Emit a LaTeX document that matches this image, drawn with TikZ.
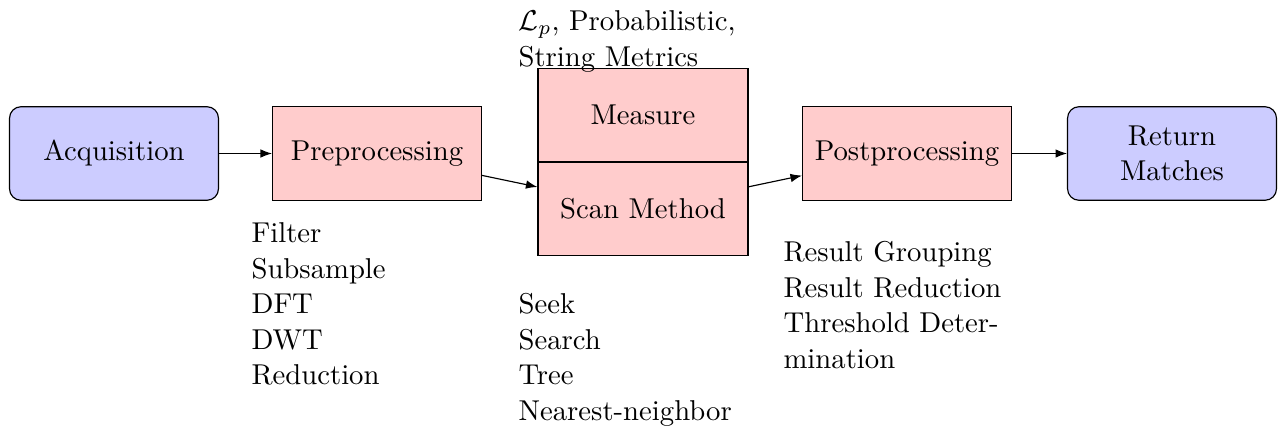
\documentclass[tikz,border=0pt]{standalone}
\usetikzlibrary{arrows.meta}
\begin{document}
\begin{tikzpicture}[x=0.34843pt,y=-0.34843pt,
  procbox/.style={draw=black, fill=red!20, minimum width=72.8pt, minimum height=32.6pt, inner sep=0pt},
  endbox/.style={procbox, fill=blue!20, rounded corners=4pt, align=center},
  note/.style={anchor=north west, inner sep=0pt, align=left, font=\fontsize{10}{12.4}\selectfont},
  conn/.style={-{Latex[length=4pt,width=3pt]}, line width=0.4pt}]
\useasboundingbox (0,0) rectangle (1282,432);
\node[endbox] (acq) at (114,153.5) {Acquisition};
\node[procbox] (pre) at (377,153.5) {Preprocessing};
\node[procbox, minimum width=73.2pt] (meas) at (643,115) {Measure};
\node[procbox, minimum width=73.2pt] (scan) at (643,209) {Scan Method};
\node[procbox] (post) at (907,153.5) {Postprocessing};
\node[endbox] (ret) at (1172,153.5) {Return\\Matches};
\draw[conn] (acq) -- (pre);
\draw[conn] (pre) -- (scan);
\draw[conn] (scan) -- (post);
\draw[conn] (post) -- (ret);
\node[note] (mnote) at (518,10) {$\mathcal{L}_p$, Probabilistic,\\String Metrics};
\node[note] (prenote) at (251,222) {Filter\\Subsample\\DFT\\DWT\\Reduction};
\node[note] (scannote) at (518,293) {Seek\\Search\\Tree\\Nearest-neighbor};
\node[note] (postnote) at (783,241) {Result Grouping\\Result Reduction\\Threshold Deter-\\mination};
\end{tikzpicture}
\end{document}
